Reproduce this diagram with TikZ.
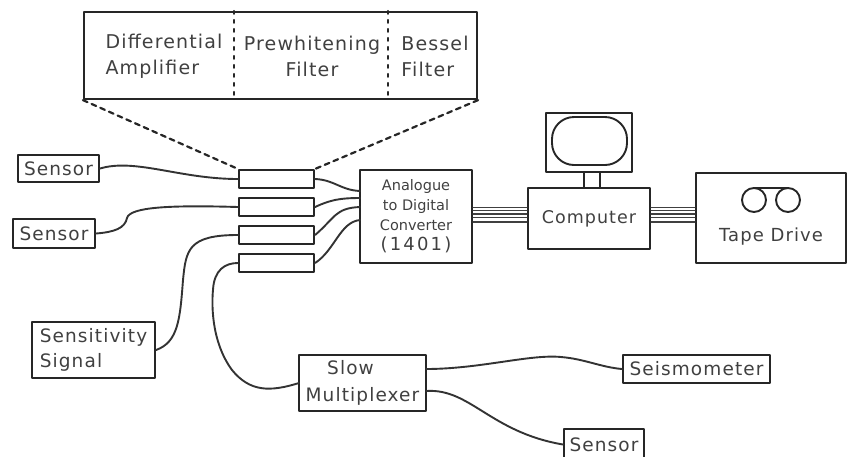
\documentclass[tikz,border=0pt]{standalone}
\usepackage{fontspec}
\setmainfont[LetterSpace=6]{DejaVu Sans}
\newfontfamily\tightfont{DejaVu Sans}
\begin{document}
\begin{tikzpicture}[x=1pt,y=-1pt,line join=round,line cap=round,
	unit/.style={draw=black!85,line width=2.2pt,inner sep=0pt,align=center,text=black!75,font=\fontsize{18.5}{26}\selectfont},
	label/.style={inner sep=0pt,text=black!75,font=\fontsize{19}{26}\selectfont},
	wire/.style={draw=black!80,line width=1.9pt},
	bus/.style={draw=black!75,line width=1.3pt},
	zoomline/.style={draw=black!85,line width=2.2pt},
	dashline/.style={zoomline,dash pattern=on 5pt off 4.5pt},
	dotline/.style={zoomline,dash pattern=on 3pt off 6pt}]
	\useasboundingbox (0,0) rectangle (851,456);
	% filter unit, opened out
	\node[unit,minimum width=393pt,minimum height=87pt] (zoombox) at (280.5,55.5) {};
	\coordinate (divA) at (234,55);
	\coordinate (divB) at (388,55);
	\draw[dotline] (divA |- zoombox.north) -- (divA |- zoombox.south);
	\draw[dotline] (divB |- zoombox.north) -- (divB |- zoombox.south);
	\node[label,align=left] (diffamp) at (164,56) {Differential\\Amplifier};
	\node[label,align=center] (prewhite) at (312,56) {Prewhitening\\Filter};
	\node[label,align=left] (bessel) at (435,56) {Bessel\\Filter};
	% four channels
	\foreach \name/\y in {filA/179,filB/207,filC/235,filD/263}
	\node[unit,minimum width=75pt,minimum height=18pt] (\name) at (276.5,\y) {};
	\draw[dashline] (zoombox.south west) -- (filA.north west);
	\draw[dashline] (zoombox.south east) -- (filA.north east);
	% inputs
	\node[unit,minimum width=81pt,minimum height=27pt] (sensA) at (58.5,168.5) {Sensor};
	\node[unit,minimum width=82pt,minimum height=29pt] (sensB) at (54,233.5) {Sensor};
	\node[unit,minimum width=123pt,minimum height=56pt,align=left,font=\fontsize{18.5}{25}\selectfont] (sensit) at (93.5,350) {Sensitivity\\Signal};
	\node[unit,minimum width=127pt,minimum height=56pt,font=\fontsize{18.5}{27}\selectfont] (slowmux) at (362.5,383) {Slow\hspace*{24pt}\\Multiplexer};
	\node[unit,minimum width=147pt,minimum height=28pt] (seismo) at (696.5,369) {Seismometer};
	\node[unit,minimum width=80pt,minimum height=31pt] (sensC) at (604,444.5) {Sensor};
	% converter, computer, tape
	\node[unit,minimum width=112pt,minimum height=93pt,font=\tightfont\fontsize{14.5}{20}\selectfont] (adc) at (416,216.5) {Analogue\\to Digital\\Converter\\{\fontsize{18}{20}\selectfont\addfontfeature{LetterSpace=12}(1401)}};
	\node[unit,minimum width=122pt,minimum height=61pt,font=\fontsize{17.5}{20}\selectfont] (comp) at (589,218.5) {Computer};
	\node[unit,minimum width=150pt,minimum height=90pt] (tape) at (771,218) {};
	\node[label,font=\fontsize{18}{20}\selectfont] (tapetext) at (771,237) {Tape Drive};
	\node[unit,minimum width=86pt,minimum height=59pt] (monitor) at (589,142.5) {};
	\draw[draw=black!85,line width=1.9pt,rounded corners=22pt] (552,117) rectangle (627,165);
	\coordinate (stemA) at (584,180);
	\coordinate (stemB) at (600,180);
	\draw[zoomline] (stemA |- monitor.south) -- (stemA |- comp.north) (stemB |- monitor.south) -- (stemB |- comp.north);
	\draw[draw=black!85,line width=1.9pt] (754,200) circle (12) (788,200) circle (12) (754,188)--(788,188);
	% buses
	\foreach \y in {207.5,210.5,214,217.5,222}{
		\draw[bus] (adc.east |- 0,\y) -- (comp.west |- 0,\y);
		\draw[bus] (comp.east |- 0,\y) -- (tape.west |- 0,\y);
	}
	% wires
	\coordinate (adcA) at (360,191);
	\coordinate (adcB) at (360,198);
	\coordinate (adcC) at (360,207);
	\coordinate (adcD) at (360,220);
	\coordinate (muxIn) at (299,383);
	\coordinate (muxA) at (426,369);
	\coordinate (muxB) at (426,391);
	\draw[wire] (sensA.east) .. controls (135,158) and (180,179) .. (filA.west);
	\draw[wire] (sensB.east) .. controls (115,232) and (125,228) .. (127,218) .. controls (130,207) and (170,205) .. (filB.west);
	\draw[wire] (sensit.east) .. controls (178,342) and (180,320) .. (183,280) .. controls (186,250) and (188,235) .. (filC.west);
	\draw[wire] (muxIn) .. controls (270,392) and (250,392) .. (232,370) .. controls (210,340) and (212,300) .. (213,290) .. controls (214,270) and (225,263) .. (filD.west);
	\draw[wire] (filA.east) .. controls (335,180) and (340,190) .. (adcA);
	\draw[wire] (filB.east) .. controls (330,200) and (340,198) .. (adcB);
	\draw[wire] (filC.east) .. controls (335,218) and (335,208) .. (adcC);
	\draw[wire] (filD.east) .. controls (335,250) and (340,222) .. (adcD);
	\draw[wire] (muxA) .. controls (480,369) and (530,354) .. (561,357) .. controls (585,359) and (600,367) .. (seismo.west);
	\draw[wire] (muxB) .. controls (470,388) and (490,432) .. (sensC.west);
\end{tikzpicture}
\end{document}
